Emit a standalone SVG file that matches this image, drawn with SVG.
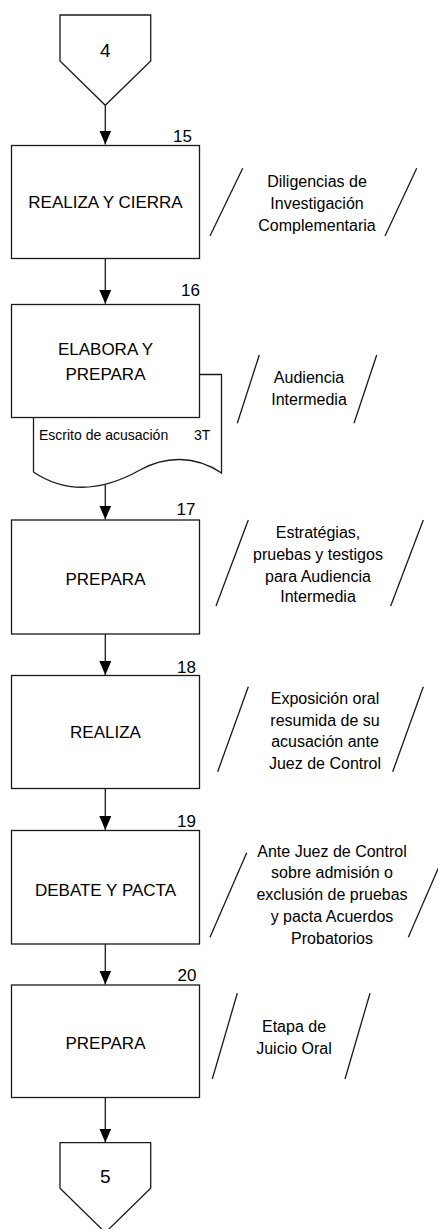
<svg xmlns="http://www.w3.org/2000/svg" width="438" height="1229" viewBox="0 0 438 1229">
<style>
.shape{fill:#fff;stroke:#1a1a1a;stroke-width:1.3}
.ln{fill:none;stroke:#1a1a1a;stroke-width:1.3}
.box{font-family:"Liberation Sans",Arial,sans-serif;font-size:17px;fill:#000;text-anchor:middle}
.num{font-family:"Liberation Sans",Arial,sans-serif;font-size:17px;fill:#000;text-anchor:end}
.con{font-family:"Liberation Sans",Arial,sans-serif;font-size:19px;fill:#000;text-anchor:middle}
.desc{font-family:"Liberation Sans",Arial,sans-serif;font-size:16px;fill:#000;text-anchor:middle}
.doc{font-family:"Liberation Sans",Arial,sans-serif;font-size:14px;fill:#000}
</style>
<defs>
<marker id="ah" markerUnits="userSpaceOnUse" markerWidth="14" markerHeight="12" viewBox="0 0 14 12" refX="14" refY="6" orient="auto">
<path d="M0,0 L14,6 L0,12 z" fill="#000"/>
</marker>
</defs>
<g id="connectors">
<line class="ln" x1="105.3" y1="105.3" x2="105.3" y2="144.5" marker-end="url(#ah)"/>
<line class="ln" x1="105.3" y1="258.5" x2="105.3" y2="303.8" marker-end="url(#ah)"/>
<line class="ln" x1="105.3" y1="485" x2="105.3" y2="519.5" marker-end="url(#ah)"/>
<line class="ln" x1="105.3" y1="634" x2="105.3" y2="675" marker-end="url(#ah)"/>
<line class="ln" x1="105.3" y1="788.5" x2="105.3" y2="830" marker-end="url(#ah)"/>
<line class="ln" x1="105.3" y1="944" x2="105.3" y2="984.5" marker-end="url(#ah)"/>
<line class="ln" x1="105.3" y1="1097.5" x2="105.3" y2="1142.5" marker-end="url(#ah)"/>
</g>
<g id="conn4">
<polygon class="shape" points="60,15 150.7,15 150.7,61 105.3,105.3 60,61"/>
<text class="con" x="105.3" y="56.5">4</text>
</g>
<g id="step15">
<rect class="shape" x="11.5" y="145.5" width="188" height="113"/>
<text class="num" x="192" y="141.7">15</text>
<text class="box" x="105.5" y="208.3">REALIZA Y CIERRA</text>
</g>
<g id="data15">
<line class="ln" x1="242.7" y1="168.3" x2="210" y2="236"/>
<line class="ln" x1="416.7" y1="168.3" x2="385" y2="236"/>
<text class="desc" x="317" y="187.3">Diligencias de</text>
<text class="desc" x="317" y="209.3">Investigación</text>
<text class="desc" x="317" y="231">Complementaria</text>
</g>
<g id="step16">
<path class="shape" d="M199.5,374.5 H221.5 V473 C195,455 165,456 140,470 C115,484 75,500 33.5,472 V417.5"/>
<rect class="shape" x="11.5" y="304.5" width="188" height="113"/>
<text class="num" x="200" y="296">16</text>
<text class="box" x="105.5" y="355">ELABORA Y</text>
<text class="box" x="105.5" y="380">PREPARA</text>
<text class="doc" x="39" y="440">Escrito de acusación</text>
<text class="doc" x="194" y="440">3T</text>
</g>
<g id="data16">
<line class="ln" x1="259.3" y1="355" x2="237.3" y2="423.3"/>
<line class="ln" x1="376.7" y1="355" x2="354" y2="423.3"/>
<text class="desc" x="309" y="382.5">Audiencia</text>
<text class="desc" x="309" y="405">Intermedia</text>
</g>
<g id="step17">
<rect class="shape" x="11.5" y="520" width="188" height="114"/>
<text class="num" x="195.5" y="515">17</text>
<text class="box" x="105.5" y="584.5">PREPARA</text>
</g>
<g id="data17">
<line class="ln" x1="248.3" y1="520" x2="216" y2="606"/>
<line class="ln" x1="423.3" y1="520" x2="390.7" y2="606"/>
<text class="desc" x="318" y="538.3">Estratégias,</text>
<text class="desc" x="318" y="560">pruebas y testigos</text>
<text class="desc" x="318" y="581.5">para Audiencia</text>
<text class="desc" x="318" y="602">Intermedia</text>
</g>
<g id="step18">
<rect class="shape" x="11.5" y="675.5" width="188" height="113"/>
<text class="num" x="196" y="672.7">18</text>
<text class="box" x="105.5" y="738.3">REALIZA</text>
</g>
<g id="data18">
<line class="ln" x1="248.3" y1="686.7" x2="217.7" y2="771.7"/>
<line class="ln" x1="423.3" y1="686.7" x2="392.7" y2="771.7"/>
<text class="desc" x="325" y="704">Exposición oral</text>
<text class="desc" x="325" y="725.7">resumida de su</text>
<text class="desc" x="325" y="747.4">acusación ante</text>
<text class="desc" x="325" y="769.3">Juez de Control</text>
</g>
<g id="step19">
<rect class="shape" x="11.5" y="830.5" width="188" height="113.5"/>
<text class="num" x="196" y="827.3">19</text>
<text class="box" x="105.5" y="896">DEBATE Y PACTA</text>
</g>
<g id="data19">
<line class="ln" x1="246.7" y1="852.7" x2="210" y2="937.3"/>
<line class="ln" x1="445" y1="852.7" x2="408.3" y2="937.3"/>
<text class="desc" x="332" y="856.7">Ante Juez de Control</text>
<text class="desc" x="332" y="878.3">sobre admisión o</text>
<text class="desc" x="332" y="900">exclusión de pruebas</text>
<text class="desc" x="332" y="921.7">y pacta Acuerdos</text>
<text class="desc" x="332" y="943.5">Probatorios</text>
</g>
<g id="step20">
<rect class="shape" x="11.5" y="985" width="188" height="112.5"/>
<text class="num" x="196.5" y="980.7">20</text>
<text class="box" x="105.5" y="1049">PREPARA</text>
</g>
<g id="data20">
<line class="ln" x1="237.3" y1="993.3" x2="212.3" y2="1079"/>
<line class="ln" x1="370" y1="993.3" x2="345" y2="1079"/>
<text class="desc" x="294" y="1031.7">Etapa de</text>
<text class="desc" x="294" y="1054">Juicio Oral</text>
</g>
<g id="conn5">
<polygon class="shape" points="60,1142.7 150.7,1142.7 150.7,1188.3 105.3,1232.6 60,1188.3"/>
<text class="con" x="105.3" y="1183.3">5</text>
</g>
</svg>
